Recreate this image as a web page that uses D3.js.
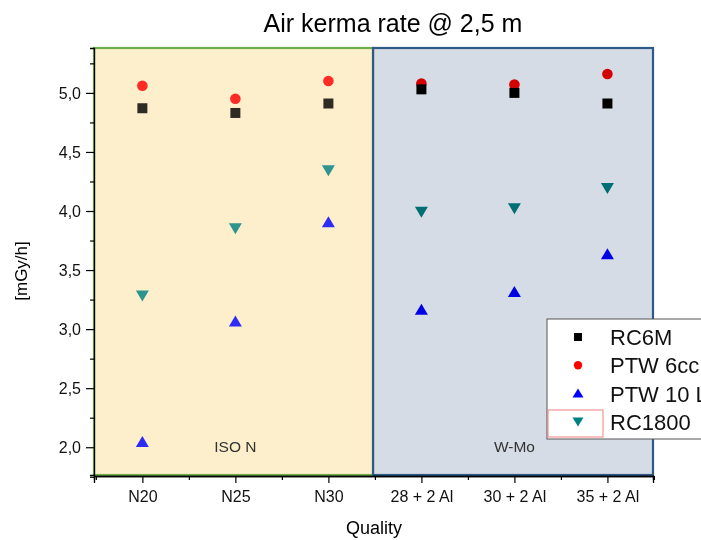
<!DOCTYPE html>
<html>
<head>
<meta charset="utf-8">
<script src="https://cdn.jsdelivr.net/npm/d3@7"></script>
<style>
  body { margin: 0; background: #fff; }
  svg { font-family: "Liberation Sans", Arial, sans-serif; display: block; }
</style>
</head>
<body>
<div id="chart"></div>
<script>
// categories on the x axis
const qualities = ['N20', 'N25', 'N30', '28 + 2 Al', '30 + 2 Al', '35 + 2 Al'];
// measured air kerma rate per chamber, mGy/h
const rc6m    = [4.87, 4.83, 4.91, 5.03, 5.00, 4.91];
const ptw6cc  = [5.06, 4.95, 5.10, 5.08, 5.07, 5.16];
const ptw10l  = [2.04, 3.06, 3.90, 3.16, 3.31, 3.63];
const rc1800  = [3.28, 3.85, 4.34, 3.99, 4.02, 4.19];
const yTicks  = [2.0, 2.5, 3.0, 3.5, 4.0, 4.5, 5.0];
// shaded groups: first / last category index
const groups = [
  { label: 'ISO N', from: 0, to: 2, fill: '#fef0cc', stroke: '#6fad4a', tint: 0.18 },
  { label: 'W-Mo',  from: 3, to: 5, fill: '#d5dce5', stroke: '#2e5987', tint: 0 }
];

const W = 701, H = 540;
const svg = d3.select('#chart').append('svg')
  .attr('width', W).attr('height', H);

const x = d3.scaleLinear().domain([0.48, 6.49]).range([94, 653]);
const y = d3.scaleLinear().domain([1.765, 5.38]).range([475, 48]);

// group rectangles (base)
const rectX0 = g => g.from === 0 ? x.range()[0] : x(g.from + 0.48);
const rectX1 = g => g.to === qualities.length - 1 ? x.range()[1] : x(g.to + 1.48);

svg.selectAll('rect.grp')
  .data(groups)
  .join('rect')
  .attr('class', 'grp')
  .attr('x', rectX0)
  .attr('y', y.range()[1])
  .attr('width', g => rectX1(g) - rectX0(g))
  .attr('height', y.range()[0] - y.range()[1])
  .attr('fill', g => g.fill);

// series
const series = [
  { name: 'RC6M', values: rc6m, color: '#000000', shape: 'square' },
  { name: 'PTW 6cc', values: ptw6cc, color: '#ff0000', shape: 'circle' },
  { name: 'PTW 10 L', values: ptw10l, color: '#0000ff', shape: 'up' },
  { name: 'RC1800', values: rc1800, color: '#008080', shape: 'down' }
];

function marker(shape) {
  if (shape === 'square') return 'M-5,-5H5V5H-5Z';
  if (shape === 'circle') return d3.symbol(d3.symbolCircle, 88)();
  if (shape === 'up') return 'M0,-6.5L6.5,4.5L-6.5,4.5Z';
  return 'M0,5.5L6.5,-5.5L-6.5,-5.5Z';
}

const plot = svg.append('g');
series.forEach(s => {
  plot.selectAll(null)
    .data(s.values)
    .join('path')
    .attr('d', marker(s.shape))
    .attr('transform', (v, i) => `translate(${x(i + 1)},${y(v)})`)
    .attr('fill', s.color)
    .style('mix-blend-mode', (v, i) => i >= 3 ? 'multiply' : 'normal');
});

// tint over the markers + borders
svg.selectAll('rect.tint')
  .data(groups)
  .join('rect')
  .attr('class', 'tint')
  .attr('x', rectX0)
  .attr('y', y.range()[1])
  .attr('width', g => rectX1(g) - rectX0(g))
  .attr('height', y.range()[0] - y.range()[1])
  .attr('fill', g => g.fill)
  .attr('fill-opacity', g => g.tint);

svg.selectAll('rect.border')
  .data(groups)
  .join('rect')
  .attr('class', 'border')
  .attr('x', rectX0)
  .attr('y', y.range()[1])
  .attr('width', g => rectX1(g) - rectX0(g))
  .attr('height', y.range()[0] - y.range()[1])
  .attr('fill', 'none')
  .attr('stroke', g => g.stroke)
  .attr('stroke-width', 2.2);

svg.selectAll('text.grp')
  .data(groups)
  .join('text')
  .attr('class', 'grp')
  .attr('x', g => (x(g.from + 1) + x(g.to + 1)) / 2)
  .attr('y', 452)
  .attr('text-anchor', 'middle')
  .attr('font-size', 15.5)
  .attr('fill', '#333')
  .text(g => g.label);

// axes
const fmt = d3.format('.1f');
const yAxis = svg.append('g')
  .attr('transform', `translate(${x.range()[0]},0)`)
  .call(d3.axisLeft(y).tickValues(yTicks).tickSize(8).tickPadding(5)
    .tickFormat(d => fmt(d).replace('.', ',')));
svg.append('g')
  .attr('transform', `translate(${x.range()[0]},0)`)
  .call(d3.axisLeft(y).tickValues(d3.range(1.75, 5.3, 0.5)).tickSize(4).tickFormat(''));

const xAxis = svg.append('g')
  .attr('transform', `translate(0,${y.range()[0] + 1})`)
  .call(d3.axisBottom(x).tickValues(d3.range(1, 7)).tickSize(7).tickPadding(8)
    .tickFormat(d => qualities[d - 1]));
svg.append('g')
  .attr('transform', `translate(0,${y.range()[0] + 1})`)
  .call(d3.axisBottom(x).tickValues(d3.range(0.5, 7, 1)).tickSize(4).tickFormat(''));

svg.selectAll('.domain').attr('stroke', '#000').attr('stroke-width', 1.3);
svg.selectAll('.tick line').attr('stroke', '#000').attr('stroke-width', 1.2);
svg.selectAll('.tick text').attr('font-size', 16).attr('fill', '#111')
  .attr('font-family', '"Liberation Sans", Arial, sans-serif');
yAxis.selectAll('.domain').attr('stroke', 'none');

// titles
svg.append('text')
  .attr('x', 393).attr('y', 32)
  .attr('text-anchor', 'middle')
  .attr('font-size', 25)
  .text('Air kerma rate @ 2,5 m');

svg.append('text')
  .attr('x', 374).attr('y', 534)
  .attr('text-anchor', 'middle')
  .attr('font-size', 18)
  .text('Quality');

svg.append('text')
  .attr('transform', 'translate(27,271) rotate(-90)')
  .attr('text-anchor', 'middle')
  .attr('font-size', 17)
  .text('[mGy/h]');

// legend
const legend = svg.append('g').attr('transform', 'translate(547,319)');
legend.append('rect')
  .attr('x', 0).attr('y', 0)
  .attr('width', 170).attr('height', 120)
  .attr('fill', '#fff')
  .attr('stroke', '#555').attr('stroke-width', 1);
legend.append('rect')
  .attr('x', 1).attr('y', 91)
  .attr('width', 55).attr('height', 27)
  .attr('fill', 'none')
  .attr('stroke', '#f08080').attr('stroke-width', 1);

const rows = legend.selectAll('g.row')
  .data(series)
  .join('g')
  .attr('class', 'row')
  .attr('transform', (s, i) => `translate(0,${18 + i * 28.3})`);
rows.append('path')
  .attr('d', s => s.shape === 'square' ? 'M-4,-4H4V4H-4Z'
    : s.shape === 'circle' ? d3.symbol(d3.symbolCircle, 55)()
    : s.shape === 'up' ? 'M0,-5L5.5,4L-5.5,4Z' : 'M0,4.5L5.5,-4.5L-5.5,-4.5Z')
  .attr('transform', 'translate(31,0)')
  .attr('fill', s => s.color);
rows.append('text')
  .attr('x', 63).attr('y', 8)
  .attr('font-size', 22)
  .attr('fill', '#111')
  .text(s => s.name);
</script>
</body>
</html>
